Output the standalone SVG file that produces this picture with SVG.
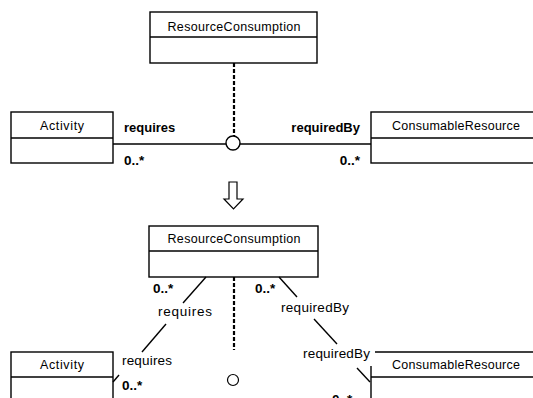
<svg xmlns="http://www.w3.org/2000/svg" width="533" height="398" viewBox="0 0 533 398">
<style>
.box{fill:#fff;stroke:#000;stroke-width:1.4}
.div{stroke:#000;stroke-width:1.4}
.cls{font-family:"Liberation Sans",Arial,sans-serif;font-size:12.5px;fill:#000}
.b{font-family:"Liberation Sans",Arial,sans-serif;font-size:13px;font-weight:bold;fill:#000}
.m{font-family:"Liberation Sans",Arial,sans-serif;font-size:13.5px;font-weight:bold;fill:#000}
.r{font-family:"Liberation Sans",Arial,sans-serif;font-size:13.5px;fill:#000}
.ln{stroke:#000;stroke-width:1.4;fill:none}
.dash{stroke:#000;stroke-width:2.2;stroke-dasharray:4 2;fill:none}
</style>
<rect width="533" height="398" fill="#fff"/>
<g id="rc-top">
<rect class="box" x="150" y="12" width="167" height="51"/>
<line class="div" x1="150" y1="37" x2="317" y2="37"/>
<text class="cls" x="234" y="31" text-anchor="middle" textLength="133" lengthAdjust="spacing">ResourceConsumption</text>
</g>
<g id="activity-top">
<rect class="box" x="11" y="112" width="102" height="51"/>
<line class="div" x1="11" y1="138" x2="113" y2="138"/>
<text class="cls" x="62" y="130" text-anchor="middle" textLength="44" lengthAdjust="spacing">Activity</text>
</g>
<g id="cr-top">
<rect class="box" x="371" y="112" width="200" height="51"/>
<line class="div" x1="371" y1="138" x2="533" y2="138"/>
<text class="cls" x="456" y="130" text-anchor="middle" textLength="128" lengthAdjust="spacing">ConsumableResource</text>
</g>
<g id="rc-bottom">
<rect class="box" x="149" y="226" width="169" height="51"/>
<line class="div" x1="149" y1="251" x2="318" y2="251"/>
<text class="cls" x="234" y="243" text-anchor="middle" textLength="133" lengthAdjust="spacing">ResourceConsumption</text>
</g>
<g id="activity-bottom">
<rect class="box" x="11" y="352" width="102" height="60"/>
<line class="div" x1="11" y1="377" x2="113" y2="377"/>
<text class="cls" x="62" y="369" text-anchor="middle" textLength="44" lengthAdjust="spacing">Activity</text>
</g>
<g id="cr-bottom">
<rect fill="#fff" x="371" y="352" width="200" height="60"/>
<line class="ln" x1="375" y1="352" x2="533" y2="352"/>
<line class="ln" x1="371" y1="366" x2="371" y2="398"/>
<line class="div" x1="371" y1="377" x2="533" y2="377"/>
<text class="cls" x="456" y="369" text-anchor="middle" textLength="128" lengthAdjust="spacing">ConsumableResource</text>
</g>
<g id="connectors">
<line class="dash" x1="234" y1="63" x2="234" y2="136"/>
<line class="ln" x1="113" y1="144" x2="226" y2="144"/>
<line class="ln" x1="240" y1="144" x2="371" y2="144"/>
<circle cx="233" cy="143" r="7" fill="#fff" stroke="#000" stroke-width="1.4"/>
<polygon points="229,182 237,182 237,199 243,199 233.5,209 224,199 229,199" fill="#fff" stroke="#000" stroke-width="1.2"/>
<line class="dash" x1="234" y1="277" x2="234" y2="350"/>
<circle cx="233" cy="380" r="5.5" fill="#fff" stroke="#000" stroke-width="1.2"/>
<line class="ln" x1="206" y1="277" x2="183" y2="303"/>
<line class="ln" x1="166" y1="324" x2="142" y2="352"/>
<line class="ln" x1="119" y1="375" x2="113" y2="382"/>
<line class="ln" x1="279" y1="277" x2="297" y2="297"/>
<line class="ln" x1="314" y1="319" x2="337" y2="344"/>
<line class="ln" x1="357" y1="368" x2="370" y2="382"/>
</g>
<g id="labels">
<text class="b" x="124" y="132">requires</text>
<text class="m" x="124" y="165">0..*</text>
<text class="b" x="360" y="132" text-anchor="end">requiredBy</text>
<text class="m" x="360" y="165" text-anchor="end">0..*</text>
<text class="m" x="153" y="293">0..*</text>
<text class="m" x="255" y="293">0..*</text>
<text class="r" x="158" y="316" textLength="54" lengthAdjust="spacing">requires</text>
<text class="r" x="281" y="312" textLength="68" lengthAdjust="spacing">requiredBy</text>
<text class="r" x="122" y="365" textLength="50" lengthAdjust="spacing">requires</text>
<text class="r" x="303" y="358" textLength="67" lengthAdjust="spacing">requiredBy</text>
<text class="m" x="122" y="390">0..*</text>
<text class="m" x="332" y="404">0..*</text>
</g>
</svg>
